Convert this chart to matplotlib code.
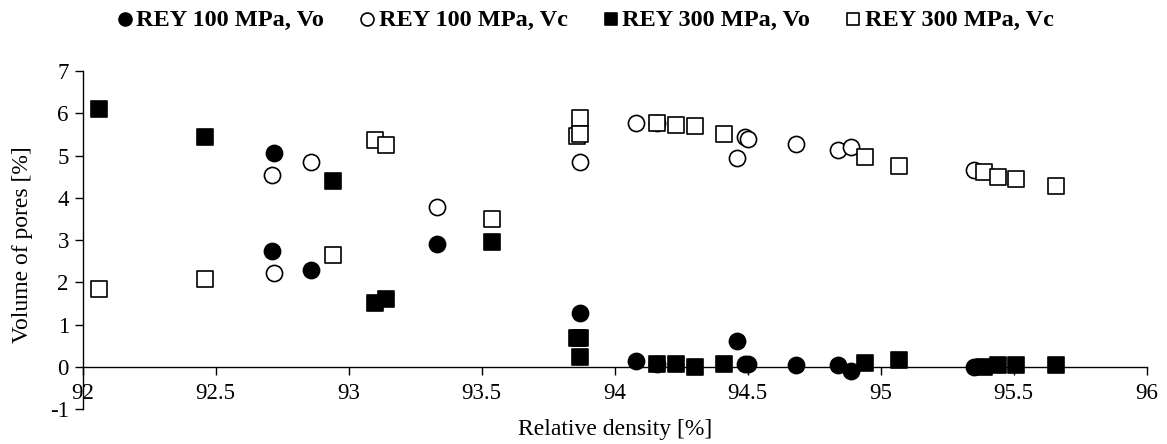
import matplotlib
matplotlib.use("Agg")
import matplotlib.pyplot as plt

plt.rcParams['font.family'] = ['Liberation Serif', 'DejaVu Serif']
plt.rcParams['axes.unicode_minus'] = False

# REY 100 MPa (circles)
x100 = [92.71, 92.72, 92.86, 93.33, 93.87, 94.08, 94.16, 94.46, 94.49, 94.50, 94.68, 94.84, 94.89, 95.35]
vo100 = [2.74, 5.05, 2.29, 2.90, 1.27, 0.13, 0.07, 0.60, 0.07, 0.07, 0.03, 0.04, -0.11, 0.00]
vc100 = [4.54, 2.21, 4.85, 3.77, 4.85, 5.78, 5.78, 4.94, 5.43, 5.40, 5.28, 5.13, 5.21, 4.66]

# REY 300 MPa (squares)
x300 = [92.06, 92.46, 92.94, 93.10, 93.14, 93.54, 93.87, 93.86, 93.87, 94.16, 94.23, 94.30,
        94.41, 94.94, 95.07, 95.39, 95.44, 95.51, 95.66]
vo300 = [6.09, 5.43, 4.40, 1.51, 1.60, 2.96, 0.22, 0.67, 0.67, 0.07, 0.07, 0.00,
         0.07, 0.08, 0.15, 0.00, 0.05, 0.03, 0.03]
vc300 = [1.84, 2.08, 2.65, 5.37, 5.26, 3.50, 5.90, 5.46, 5.50, 5.76, 5.72, 5.71,
         5.52, 4.97, 4.75, 4.61, 4.50, 4.45, 4.29]

fig = plt.figure(figsize=(11.67, 4.44), dpi=100)
ax = fig.add_axes([0.0709, 0.0788, 0.9117, 0.7612])

ms = 135
ax.scatter(x100, vo100, s=ms, marker='o', facecolor='black', edgecolor='black', linewidth=1.2,
           label='REY 100 MPa, Vo', zorder=3)
ax.scatter(x100, vc100, s=ms, marker='o', facecolor='white', edgecolor='black', linewidth=1.2,
           label='REY 100 MPa, Vc', zorder=3)
ax.scatter(x300, vo300, s=ms, marker='s', facecolor='black', edgecolor='black', linewidth=1.2,
           label='REY 300 MPa, Vo', zorder=3)
ax.scatter(x300, vc300, s=ms, marker='s', facecolor='white', edgecolor='black', linewidth=1.2,
           label='REY 300 MPa, Vc', zorder=3)

ax.set_xlim(92, 96)
ax.set_ylim(-1, 7)
ax.set_xticks([92, 92.5, 93, 93.5, 94, 94.5, 95, 95.5, 96])
ax.set_xticklabels(['92', '92.5', '93', '93.5', '94', '94.5', '95', '95.5', '96'])
ax.set_yticks(range(-1, 8))

ax.spines['top'].set_visible(False)
ax.spines['right'].set_visible(False)
ax.spines['bottom'].set_position(('data', 0))
for s in ['left', 'bottom']:
    ax.spines[s].set_linewidth(1.0)
ax.tick_params(axis='both', direction='out', length=6, width=1.0, labelsize=16.5)
ax.tick_params(axis='x', pad=6)
ax.tick_params(axis='y', pad=4)

ax.set_xlabel('Relative density [%]', fontsize=17)
ax.set_ylabel('Volume of pores [%]', fontsize=17)
ax.xaxis.set_label_coords(0.5, -0.03)
ax.yaxis.set_label_coords(-0.047, 0.485)

leg = fig.legend(loc='upper center', bbox_to_anchor=(0.502, 1.03), ncol=4, frameon=False,
                 prop={'weight': 'bold', 'size': 17.5}, handlelength=0.55, handletextpad=0.2,
                 columnspacing=1.5, markerscale=0.8, scatterpoints=1)

fig.savefig('out.png', dpi=100)
